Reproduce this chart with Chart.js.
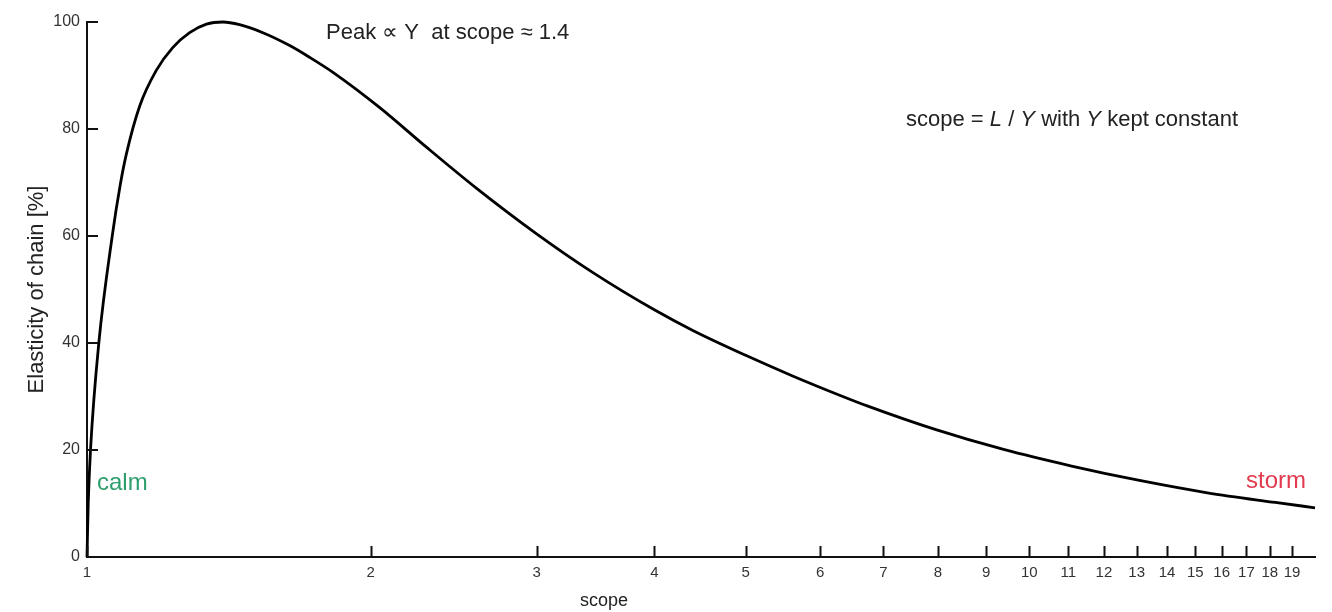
<!DOCTYPE html>
<html>
<head>
<meta charset="utf-8">
<title>Elasticity of chain</title>
<script src="https://cdn.jsdelivr.net/npm/chart.js@4/dist/chart.umd.min.js"></script>
<style>
  html, body { margin: 0; padding: 0; background: #fff; }
  #wrap { width: 1332px; height: 612px; }
</style>
</head>
<body>
<div id="wrap"><canvas id="chart" width="1332" height="612"></canvas></div>
<script>
// values (x axis is logarithmic)
const scopeValues = [1, 1.003, 1.0086, 1.0293, 1.0636, 1.085, 1.1006, 1.137, 1.184, 1.233,
	1.285, 1.339, 1.394, 1.452, 1.537, 1.641, 1.723, 1.824, 2.045, 2.292,
	2.591, 3, 3.44, 4, 4.4, 5, 5.616, 6.3, 6.74, 7.96,
	9.39, 11.09, 13.09, 15.45, 18.24, 20.1];
const elasticity = [0, 10, 20, 40, 60, 69.7, 75.2, 84.2, 90.9, 95.2,
	98.0, 99.6, 100, 99.5, 98.0, 95.6, 93.4, 90.6, 84.0, 76.6,
	68.9, 60.4, 53.2, 46.2, 42.3, 37.7, 33.8, 30.2, 28.2, 23.8,
	20.1, 17.0, 14.3, 12.0, 10.2, 9.2];
const xTicks = [1, 2, 3, 4, 5, 6, 7, 8, 9, 10, 11, 12, 13, 14, 15, 16, 17, 18, 19];
const yTicks = [0, 20, 40, 60, 80, 100];

const FONT = "'Liberation Sans', Arial, sans-serif";

// ticks point into the plot, the library only draws them outward
const inwardTicks = {
	id: 'inwardTicks',
	afterDraw(chart) {
		let { ctx, chartArea } = chart;
		let xs = chart.scales.x, ys = chart.scales.y;
		ctx.save();
		ctx.strokeStyle = '#111';
		ctx.lineWidth = 2;
		ctx.beginPath();
		xTicks.forEach(v => {
			let px = Math.round(xs.getPixelForValue(v)) + 0.5;
			ctx.moveTo(px, chartArea.bottom);
			ctx.lineTo(px, chartArea.bottom - 11);
		});
		yTicks.forEach(v => {
			let py = Math.round(ys.getPixelForValue(v));
			ctx.moveTo(chartArea.left, py);
			ctx.lineTo(chartArea.left + 11, py);
		});
		ctx.stroke();
		ctx.restore();
	}
};

// free text on the plot
const notes = {
	id: 'notes',
	afterDraw(chart) {
		let { ctx } = chart;
		ctx.save();
		ctx.textBaseline = 'middle';

		ctx.fillStyle = '#222';
		ctx.font = '22px ' + FONT;
		ctx.textAlign = 'left';
		ctx.fillText('Peak \u221D Y  at scope \u2248 1.4', 326, 33);

		// scope = L / Y with Y kept constant (L and Y italic)
		let parts = [['scope = ', false], ['L', true], [' / ', false], ['Y', true], [' with ', false], ['Y', true], [' kept constant', false]];
		let x = 906;
		parts.forEach(([t, it]) => {
			ctx.font = (it ? 'italic ' : '') + '22px ' + FONT;
			ctx.fillText(t, x, 120);
			x += ctx.measureText(t).width;
		});

		ctx.font = '24px ' + FONT;
		ctx.fillStyle = '#2f9e6c';
		ctx.fillText('calm', 97, 483);
		ctx.fillStyle = '#e23a4f';
		ctx.textAlign = 'right';
		ctx.fillText('storm', 1306, 481);

		ctx.fillStyle = '#222';
		ctx.textAlign = 'center';
		ctx.font = '18px ' + FONT;
		ctx.fillText('scope', 604, 601);
		ctx.restore();
	}
};

let points = scopeValues.map((s, i) => ({ x: s, y: elasticity[i] }));

let ctx = document.getElementById('chart').getContext('2d');
let myChart = new Chart(ctx, {
	type: 'line',
	data: {
		datasets: [{
			label: 'Elasticity',
			data: points,
			borderColor: '#000',
			borderWidth: 2.8,
			pointRadius: 0,
			fill: false,
			cubicInterpolationMode: 'monotone',
			clip: false
		}]
	},
	options: {
		responsive: false,
		animation: false,
		devicePixelRatio: 1,
		layout: { padding: { top: 22, right: 17, left: 0, bottom: 0 } },
		plugins: { legend: { display: false }, tooltip: { enabled: false } },
		scales: {
			x: {
				type: 'logarithmic',
				min: 1,
				max: 20.1,
				afterBuildTicks: scale => { scale.ticks = xTicks.map(v => ({ value: v })); },
				afterFit: scale => { scale.height = 55; },
				ticks: {
					autoSkip: false,
					maxRotation: 0,
					padding: 7,
					color: '#333',
					font: { family: FONT, size: 15 },
					callback: v => String(v)
				},
				grid: { drawOnChartArea: false, drawTicks: false },
				border: { display: true, color: '#111', width: 2 }
			},
			y: {
				type: 'linear',
				min: 0,
				max: 100,
				afterBuildTicks: scale => { scale.ticks = yTicks.map(v => ({ value: v })); },
				afterFit: scale => { scale.width = 87; },
				ticks: {
					padding: 7,
					color: '#333',
					font: { family: FONT, size: 16 },
					callback: v => String(v)
				},
				grid: { drawOnChartArea: false, drawTicks: false },
				border: { display: true, color: '#111', width: 2 },
				title: {
					display: true,
					text: 'Elasticity of chain [%]',
					color: '#222',
					font: { family: FONT, size: 22 },
					padding: { top: 24, bottom: 0 }
				}
			}
		}
	},
	plugins: [inwardTicks, notes]
});
</script>
</body>
</html>
